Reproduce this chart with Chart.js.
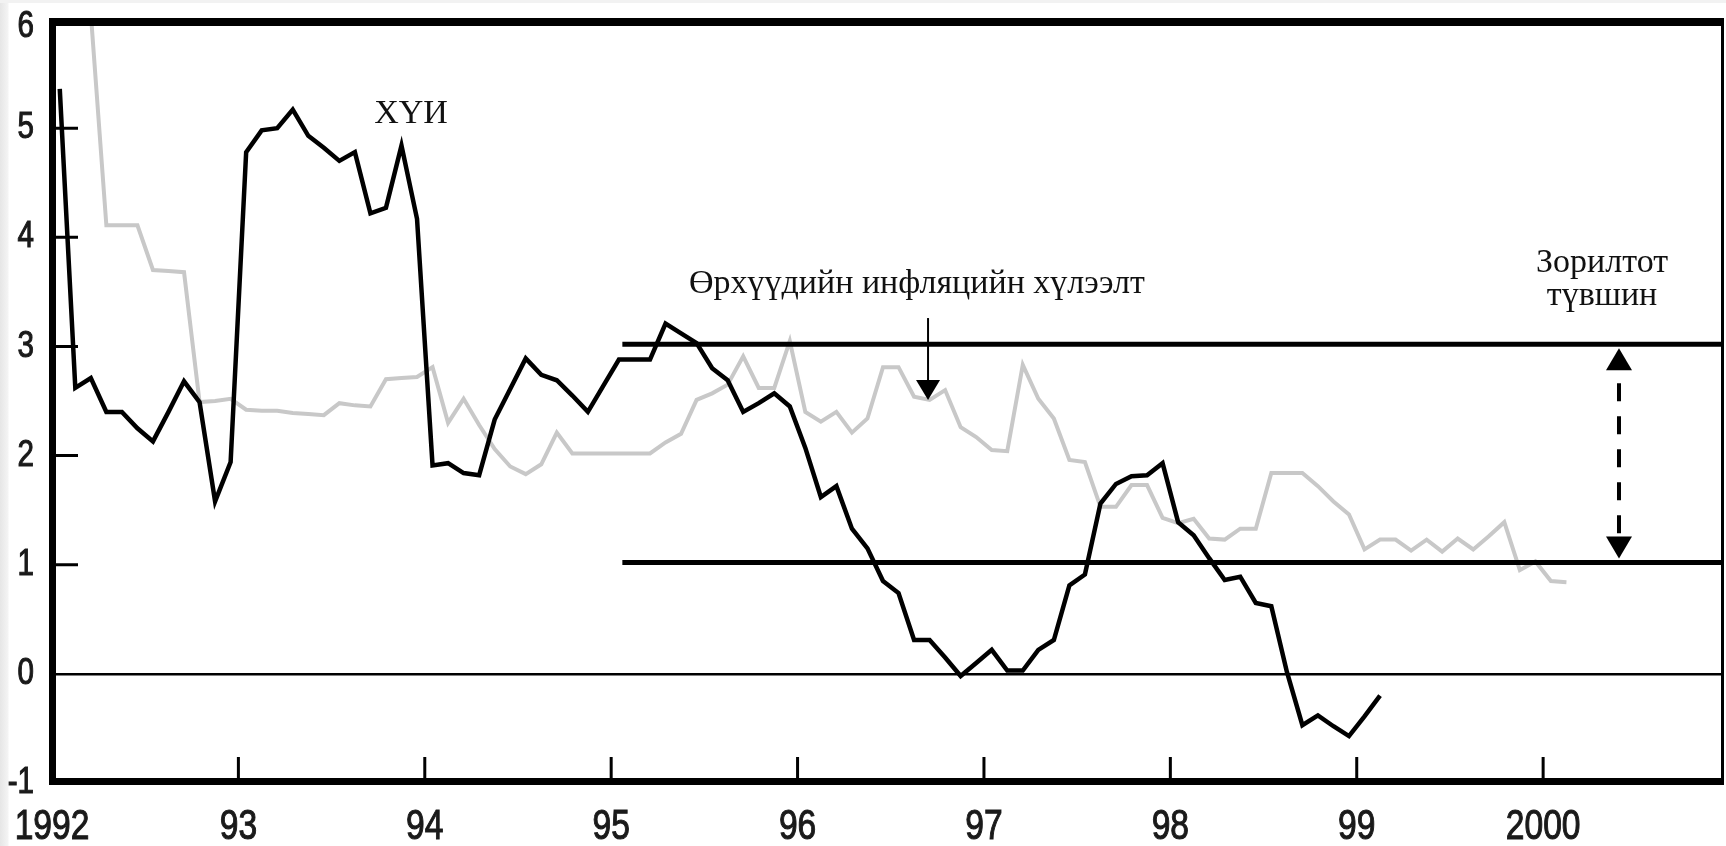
<!DOCTYPE html>
<html>
<head>
<meta charset="utf-8">
<script src="https://cdn.jsdelivr.net/npm/chart.js@4/dist/chart.umd.min.js"></script>
<style>
  html, body { margin: 0; padding: 0; background: #fff; }
  #chart {
    display: block;
    background:
      linear-gradient(#f2f2f2 0, #f2f2f2 3px, transparent 3px),
      linear-gradient(to right, #e6e6e6 0, #f4f4f4 8px, #fff 9px);
  }
</style>
</head>
<body>
<canvas id="chart" width="1726" height="846"></canvas>
<script>
// monthly series, month 0 = Jan 1992, points sit in the middle of the month
const cpiStartMonth = 0;
const cpi = [
  5.36, 2.62, 2.71, 2.40, 2.40, 2.25, 2.13, 2.40, 2.68, 2.49, 1.58, 1.94,
  4.78, 4.98, 5.00, 5.17, 4.93, 4.82, 4.70, 4.78, 4.22, 4.27, 4.84, 4.17,
  1.91, 1.93, 1.84, 1.82, 2.33, 2.61, 2.89, 2.74, 2.69, 2.55, 2.40, 2.64,
  2.88, 2.88, 2.88, 3.21, 3.12, 3.03, 2.80, 2.69, 2.40, 2.48, 2.57, 2.45,
  2.07, 1.62, 1.72, 1.33, 1.15, 0.85, 0.74, 0.31, 0.31, 0.15, -0.02, 0.10,
  0.22, 0.03, 0.03, 0.22, 0.31, 0.81, 0.91, 1.56, 1.74, 1.81, 1.82, 1.93,
  1.39, 1.27, 1.06, 0.86, 0.89, 0.65, 0.62, 0.02, -0.47, -0.38, -0.48, -0.57,
  -0.39, -0.20
];

const expStartMonth = 2;
const expectations = [
  6.05, 4.11, 4.11, 4.11, 3.70, 3.69, 3.68, 2.49, 2.50, 2.52,
  2.42, 2.41, 2.41, 2.39, 2.38, 2.37, 2.48, 2.46, 2.45, 2.70, 2.71, 2.72,
  2.81, 2.30, 2.52, 2.28, 2.06, 1.90, 1.83, 1.92, 2.21, 2.02, 2.02, 2.02,
  2.02, 2.02, 2.02, 2.12, 2.20, 2.51, 2.57, 2.65, 2.91, 2.62, 2.62, 3.05,
  2.40, 2.31, 2.40, 2.21, 2.34, 2.81, 2.81, 2.54, 2.51, 2.60, 2.26, 2.17,
  2.05, 2.04, 2.83, 2.52, 2.34, 1.96, 1.94, 1.53, 1.53, 1.73, 1.73, 1.43,
  1.38, 1.42, 1.24, 1.23, 1.33, 1.33, 1.84, 1.84, 1.84, 1.72, 1.58, 1.46,
  1.14, 1.23, 1.23, 1.13, 1.23, 1.12, 1.24, 1.14, 1.26, 1.39, 0.95, 1.03,
  0.85, 0.84
];

const targetBand = [1.02, 3.02];
const targetFrom = 1995.06;

const xMin = 1992, xMax = 2000.965;
const xTickYears = [1992, 1993, 1994, 1995, 1996, 1997, 1998, 1999, 2000];
const xTickLabels = ['1992', '93', '94', '95', '96', '97', '98', '99', '2000'];
const yTicks = [-1, 0, 1, 2, 3, 4, 5, 6];

const toPoints = (start, vals) => vals.map((v, i) => ({ x: 1992 + (start + i + 0.5) / 12, y: v }));

const serif = '"Liberation Serif", "DejaVu Serif", serif';
const sans = '"Liberation Sans", Arial, sans-serif';

// narrow tick labels: the library's ticks, squeezed horizontally like Arial Narrow
function squeezedText(ctx, text, px, py, align, size) {
  ctx.save();
  ctx.translate(px, py);
  ctx.scale(0.8, 1);
  ctx.font = size + 'px ' + sans;
  ctx.textAlign = align;
  ctx.textBaseline = 'middle';
  ctx.lineWidth = 1.1;
  ctx.strokeStyle = ctx.fillStyle;
  ctx.fillText(text, 0, 0);
  ctx.strokeText(text, 0, 0);
  ctx.restore();
}

// frame, inner tick marks, tick labels and the text/arrow notes
const decor = {
  id: 'decor',
  afterDatasetsDraw(chart) {
    const { ctx, chartArea: a, scales: { x, y } } = chart;
    ctx.save();
    ctx.fillStyle = '#000';
    ctx.strokeStyle = '#000';

    // inner ticks
    ctx.lineWidth = 3;
    ctx.beginPath();
    y.ticks.filter(t => t.value > 0 && t.value < 6).forEach(t => {
      const py = y.getPixelForValue(t.value);
      ctx.moveTo(a.left, py); ctx.lineTo(a.left + 26, py);
    });
    x.ticks.slice(1).forEach(t => {
      const px = x.getPixelForValue(t.value);
      ctx.moveTo(px, a.bottom); ctx.lineTo(px, a.bottom - 26);
    });
    ctx.stroke();

    // frame
    ctx.fillRect(a.left - 3, a.top - 1, a.right - a.left + 3, 8);
    ctx.fillRect(a.left - 3, a.bottom - 5, a.right - a.left + 3, 7);
    ctx.fillRect(a.left - 3, a.top - 1, 7, a.bottom - a.top + 3);
    ctx.fillRect(a.right - 2, a.top - 1, 3, a.bottom - a.top + 3);

    // tick labels
    ctx.fillStyle = '#1a1a1a';
    y.ticks.forEach(t => {
      squeezedText(ctx, String(t.value), 34, Math.max(y.getPixelForValue(t.value), a.top + 8), 'right', 37);
    });
    x.ticks.forEach(t => {
      squeezedText(ctx, xTickLabels[xTickYears.indexOf(t.value)], x.getPixelForValue(t.value), a.bottom + 44, 'center', 42);
    });

    // notes
    ctx.fillStyle = '#111';
    ctx.font = '34px ' + serif;
    ctx.textAlign = 'center';
    ctx.textBaseline = 'alphabetic';
    ctx.fillText('ХҮИ', x.getPixelForValue(1993.926), y.getPixelForValue(5.05));
    ctx.fillText('Өрхүүдийн инфляцийн хүлээлт', x.getPixelForValue(1996.64), y.getPixelForValue(3.49));
    ctx.fillText('Зорилтот', x.getPixelForValue(2000.316), y.getPixelForValue(3.685));
    ctx.fillText('түвшин', x.getPixelForValue(2000.316), y.getPixelForValue(3.38));

    // arrow to the expectations line
    const ax = x.getPixelForValue(1996.70);
    const aTop = y.getPixelForValue(3.26), aTip = y.getPixelForValue(2.51);
    ctx.fillStyle = '#000';
    ctx.lineWidth = 2;
    ctx.beginPath(); ctx.moveTo(ax, aTop); ctx.lineTo(ax, aTip - 18); ctx.stroke();
    ctx.beginPath(); ctx.moveTo(ax - 12, aTip - 20); ctx.lineTo(ax + 12, aTip - 20); ctx.lineTo(ax, aTip); ctx.closePath(); ctx.fill();

    // dashed double arrow between target lines
    const bx = x.getPixelForValue(2000.407);
    const hi = y.getPixelForValue(targetBand[1]) + 4;
    const lo = y.getPixelForValue(targetBand[0]) - 4;
    ctx.beginPath(); ctx.moveTo(bx, hi); ctx.lineTo(bx - 13, hi + 22); ctx.lineTo(bx + 13, hi + 22); ctx.closePath(); ctx.fill();
    ctx.beginPath(); ctx.moveTo(bx, lo); ctx.lineTo(bx - 13, lo - 22); ctx.lineTo(bx + 13, lo - 22); ctx.closePath(); ctx.fill();
    ctx.lineWidth = 4;
    ctx.setLineDash([18, 15]);
    ctx.lineDashOffset = 20;
    ctx.beginPath(); ctx.moveTo(bx, hi + 22); ctx.lineTo(bx, lo - 22); ctx.stroke();
    ctx.restore();
  }
};

new Chart(document.getElementById('chart'), {
  type: 'line',
  data: {
    datasets: [
      { label: 'ХҮИ', data: toPoints(cpiStartMonth, cpi), borderColor: '#000', borderWidth: 4.5, order: 1 },
      { label: 'high', data: [{ x: targetFrom, y: targetBand[1] }, { x: xMax, y: targetBand[1] }], borderColor: '#000', borderWidth: 5, order: 2 },
      { label: 'low', data: [{ x: targetFrom, y: targetBand[0] }, { x: xMax, y: targetBand[0] }], borderColor: '#000', borderWidth: 5, order: 2 },
      { label: 'Өрхүүдийн инфляцийн хүлээлт', data: toPoints(expStartMonth, expectations), borderColor: '#c8c8c8', borderWidth: 4, order: 3 }
    ]
  },
  options: {
    responsive: false,
    animation: false,
    devicePixelRatio: 1,
    layout: { padding: { top: 19, right: 3, left: 0, bottom: 0 } },
    elements: { point: { radius: 0 }, line: { tension: 0, borderJoinStyle: 'miter' } },
    plugins: { legend: { display: false }, tooltip: { enabled: false } },
    scales: {
      x: {
        type: 'linear', min: xMin, max: xMax,
        afterBuildTicks: s => { s.ticks = xTickYears.map(v => ({ value: v })); },
        afterFit: s => { s.height = 63; },
        grid: { display: false },
        border: { display: false },
        ticks: { display: false }
      },
      y: {
        min: -1, max: 6,
        afterBuildTicks: s => { s.ticks = yTicks.map(v => ({ value: v })); },
        afterFit: s => { s.width = 52; },
        border: { display: false },
        grid: { drawTicks: false, lineWidth: 2.5, color: c => (c.tick && c.tick.value === 0 ? '#000' : 'rgba(0,0,0,0)') },
        ticks: { display: false }
      }
    }
  },
  plugins: [decor]
});
</script>
</body>
</html>
